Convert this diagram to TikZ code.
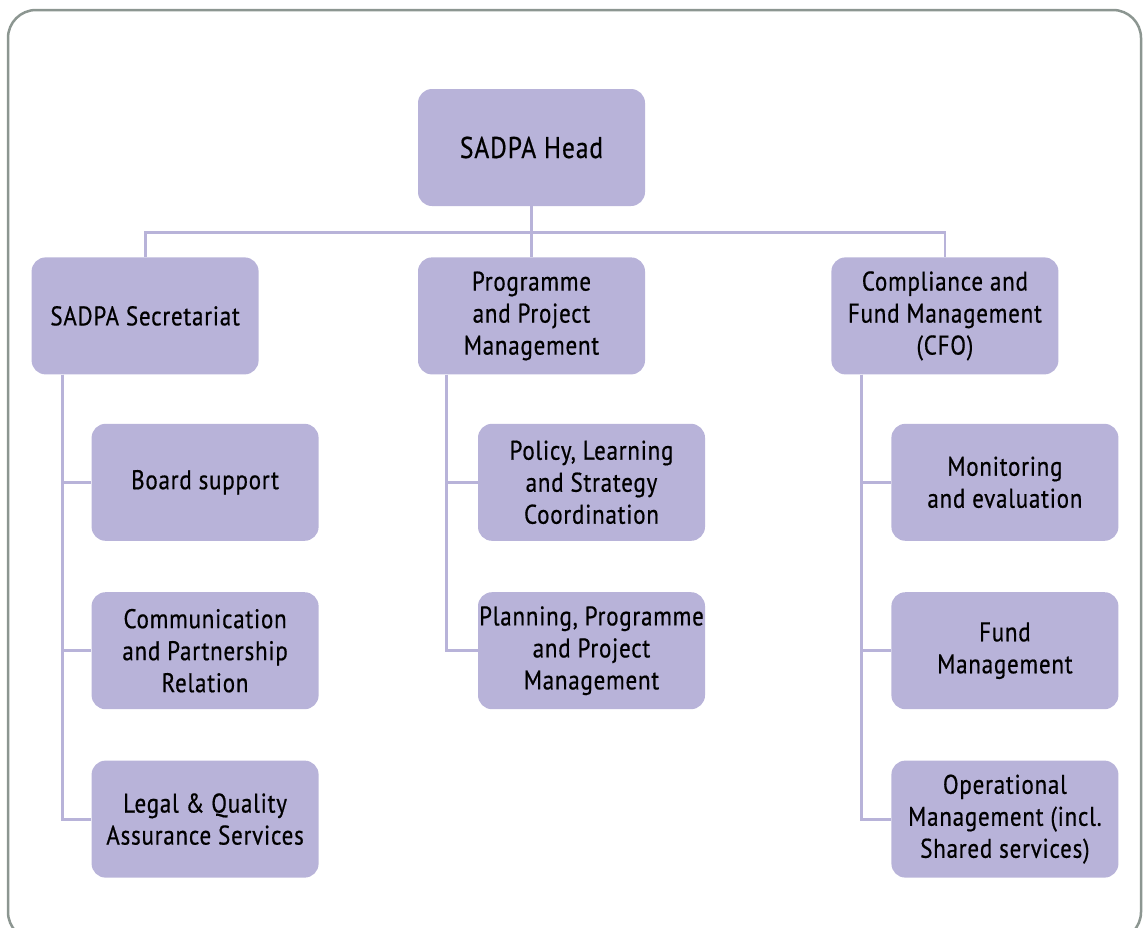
\documentclass[tikz,border=0pt]{standalone}
\usepackage{fontspec}
\setmainfont[FakeStretch=0.85,LetterSpace=3,FakeBold=0.6]{PT Sans}
\usetikzlibrary{positioning}
\definecolor{lilac}{RGB}{184,179,217}
\definecolor{frame}{RGB}{140,150,145}

\begin{document}
\begin{tikzpicture}[x=1pt,y=-1pt,
  unit/.style={fill=lilac,rounded corners=14pt,minimum width=227pt,minimum height=117pt,
    inner sep=0pt,align=center,font=\fontsize{27}{32}\selectfont},
  conn/.style={draw=lilac,line width=2.8pt},
  node distance=51pt]
\useasboundingbox (0,0) rectangle (1145,927);
\draw[frame,line width=2.5pt,rounded corners=28pt] (8,10) rectangle (1141,940);

\node[unit,font=\fontsize{30}{36}\selectfont] (head) at (531.5,147.5) {SADPA Head};
\node[unit] (prog) [below =of head] {Programme\\and Project\\Management};
\node[unit] (sec) [left =159pt of prog] {SADPA Secretariat};
\node[unit] (cfo) [right =186pt of prog] {Compliance and\\Fund Management\\(CFO)};

% secretariat units
\node[unit,anchor=north west] (board) [below right =49pt and 60pt of sec.south west] {Board support};
\node[unit] (comm) [below =of board] {Communication\\and Partnership\\Relation};
\node[unit] (legal) [below =of comm] {Legal \& Quality\\Assurance Services};

% programme units
\node[unit,anchor=north west] (policy) [below right =49pt and 60pt of prog.south west] {Policy, Learning\\and Strategy\\Coordination};
\node[unit] (plan) [below =of policy] {Planning, Programme\\and Project\\Management};

% cfo units
\node[unit,anchor=north west] (mande) [below right =49pt and 60pt of cfo.south west] {Monitoring\\and evaluation};
\node[unit] (fund) [below =of mande] {Fund\\Management};
\node[unit] (ops) [below =of fund] {Operational\\Management (incl.\\Shared services)};

\draw[conn] (head.south) -- ++(0,26) coordinate (bus);
\draw[conn] (sec.north) |- (bus) -| (cfo.north);
\draw[conn] (bus) -- (prog.north);

\draw[conn] ([xshift=31pt]sec.south west) |- (board.west);
\draw[conn] ([xshift=31pt]sec.south west) |- (comm.west);
\draw[conn] ([xshift=31pt]sec.south west) |- (legal.west);
\draw[conn] ([xshift=29pt]prog.south west) |- (policy.west);
\draw[conn] ([xshift=29pt]prog.south west) |- (plan.west);
\draw[conn] ([xshift=30pt]cfo.south west) |- (mande.west);
\draw[conn] ([xshift=30pt]cfo.south west) |- (fund.west);
\draw[conn] ([xshift=30pt]cfo.south west) |- (ops.west);
\end{tikzpicture}
\end{document}
